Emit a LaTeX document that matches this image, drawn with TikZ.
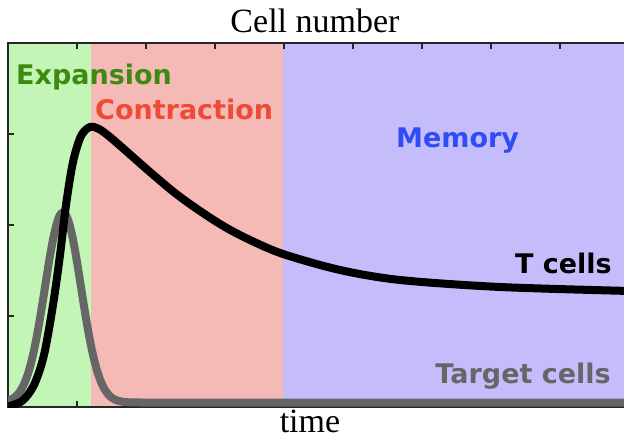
\documentclass[tikz,border=0pt]{standalone}
\usepackage{fontspec}
\setmainfont{Liberation Serif}
\newfontfamily\phasefont{DejaVu Sans}
\usepackage{xcolor}
\usepackage{tikz}
\definecolor{expbg}{HTML}{C3F6B6}
\definecolor{conbg}{HTML}{F5BAB5}
\definecolor{membg}{HTML}{C5BDFB}
\definecolor{expfg}{HTML}{3E8A10}
\definecolor{confg}{HTML}{EE4B36}
\definecolor{memfg}{HTML}{2F4CF5}
\definecolor{tgtgray}{HTML}{666666}

\begin{document}
\begin{tikzpicture}[x=1pt,y=-1pt,
  phase/.style={font=\phasefont\bfseries\fontsize{27}{30}\selectfont,inner sep=0pt},
  axlabel/.style={font=\fontsize{34}{40}\selectfont,inner sep=0pt},
  curve/.style={line width=8pt,line join=round},
  frame/.style={line width=1.6pt,black!85}]
\useasboundingbox (0,0) rectangle (624,439);
% phases
\fill[expbg] (8,43) rectangle (91,407);
\fill[conbg] (91,43) rectangle (283,407);
\fill[membg] (283,43) rectangle (624,407);
% axes
\draw[frame] (624,43)--(8,43)--(8,407)--(624,407);
\foreach \t in {77,146,...,560} {
  \draw[frame] (\t,43)--++(0,6);
  \draw[frame] (\t,407)--++(0,-6);
}
\foreach \t in {134,225,316} \draw[frame] (8,\t)--++(6,0);
% curves
\begin{scope}
\clip (8,43) rectangle (624,407);
\draw[curve,tgtgray] plot[domain=4:170,samples=120] (\x,{402.5-190*exp(-(\x-63)^2/650)}) -- (630,402.5);
\draw[curve,black] plot[smooth] coordinates{(6,407)(22,401)(34,385)(44,355)(53,305)(60,255)(66,205)(73,162)(81,136)(90,127)(99,129)(110,137)(125,150)(150,172)(175,193)(200,211)(225,227)(250,240)(283,254)(340,270)(400,280)(500,287)(630,291)};
\end{scope}
% labels
\node[phase,text=expfg,anchor=base west] (expansion) at (16,84) {Expansion};
\node[phase,text=confg,anchor=base west] (contraction) at (95,119) {Contraction};
\node[phase,text=memfg,anchor=base west] (memory) at (396,147) {Memory};
\node[phase,text=black,anchor=base east] (tcells) at (612,273) {T cells};
\node[phase,text=tgtgray,anchor=base east] (target) at (611,383) {Target cells};
\node[axlabel,anchor=base] (ylab) at (315,32) {Cell number};
\node[axlabel,anchor=base] (xlab) at (310,432) {time};
\end{tikzpicture}
\end{document}
